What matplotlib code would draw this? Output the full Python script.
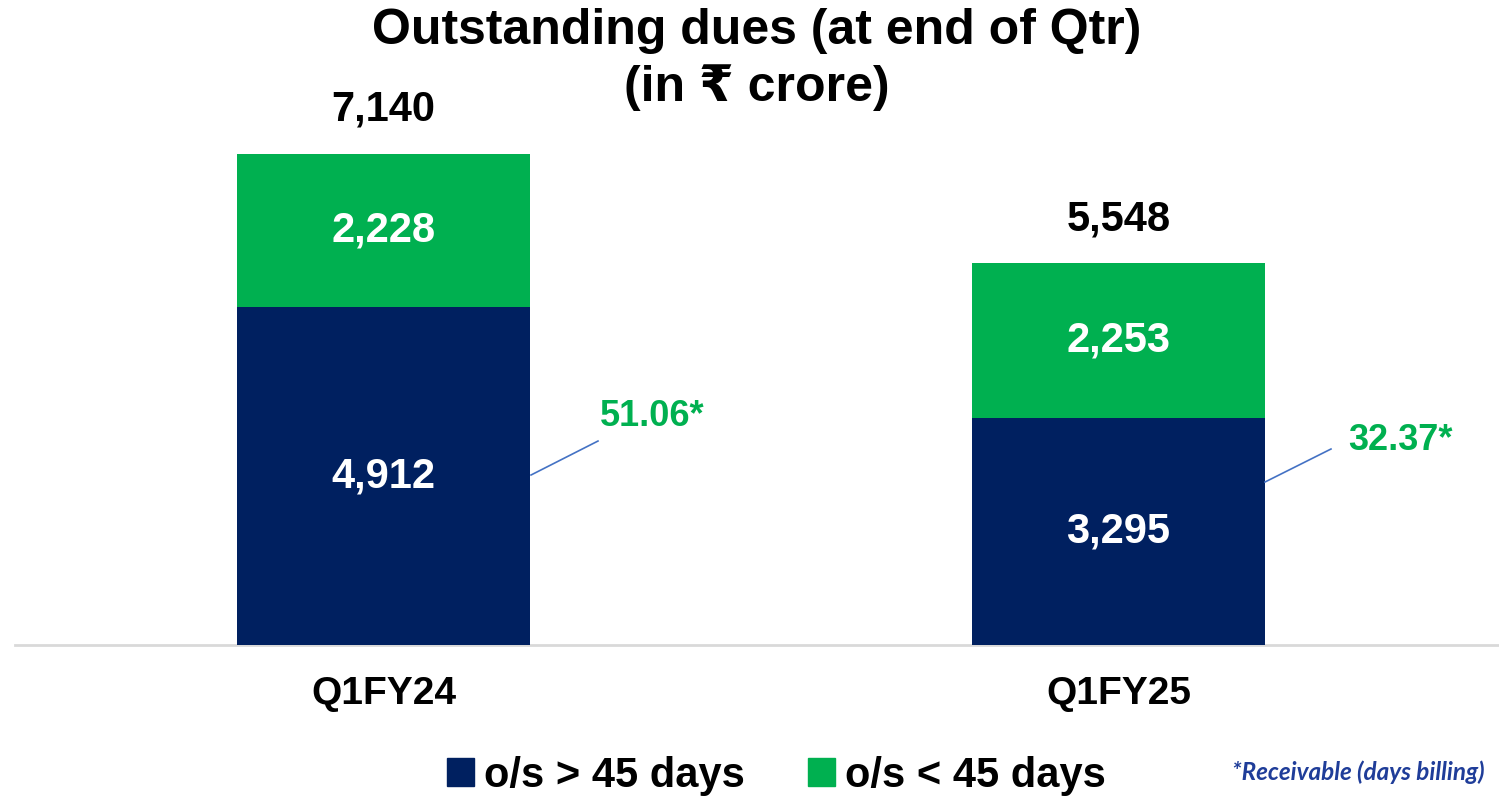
import matplotlib
matplotlib.use("Agg")
import matplotlib.pyplot as plt
from matplotlib.patches import Patch

plt.rcParams['font.family'] = ['Liberation Sans', 'DejaVu Sans']

# ---- data ----
categories = ["Q1FY24", "Q1FY25"]
over_45 = [4912, 3295]
under_45 = [2228, 2253]
totals = [7140, 5548]
days_billing = ["51.06*", "32.37*"]
series_names = ["o/s > 45 days", "o/s < 45 days"]
title_lines = ["Outstanding dues (at end of Qtr)", "(in \u20b9 crore)"]
footnote = "*Receivable (days billing)"

NAVY = "#002060"
GREEN = "#00B050"

W, H = 1499, 797
fig = plt.figure(figsize=(W / 100, H / 100), dpi=100)

base_px = 645
ax = fig.add_axes([15 / W, (H - base_px) / H, 1 - 15 / W, base_px / H])
px_per_unit = 491 / 7140
ax.set_ylim(0, base_px / px_per_unit)
ax.set_xlim(-0.5014, 1.5177)

x = list(range(len(categories)))
bw = 0.3986
ax.bar(x, over_45, width=bw, color=NAVY, zorder=2)
ax.bar(x, under_45, width=bw, bottom=over_45, color=GREEN, zorder=2)

for i in x:
    ax.text(i, over_45[i] / 2, f"{over_45[i]:,}", ha="center", va="center",
            color="white", fontsize=30, fontweight="bold")
    ax.text(i, over_45[i] + under_45[i] / 2, f"{under_45[i]:,}", ha="center",
            va="center", color="white", fontsize=30, fontweight="bold")
    ax.annotate(f"{totals[i]:,}", (i, totals[i]), xytext=(0, 32),
                textcoords="offset points", ha="center", va="center",
                fontsize=30, fontweight="bold", color="black")

# callouts for days billing (positions in data coords)
callouts = [((0.2007, 2472), (0.2918, 2966), (0.2946, 3330)),
            ((1.1993, 2370), (1.2891, 2850), (1.3122, 2970))]
for (p0, p1, pt), lab in zip(callouts, days_billing):
    ax.plot([p0[0], p1[0]], [p0[1], p1[1]], color="#4472C4", lw=1.2, zorder=3)
    ax.text(pt[0], pt[1], lab, ha="left", va="center", color=GREEN,
            fontsize=26, fontweight="bold")

for s in ["top", "right", "left"]:
    ax.spines[s].set_visible(False)
ax.spines["bottom"].set_color("#D9D9D9")
ax.spines["bottom"].set_linewidth(2)
ax.spines["bottom"].set_zorder(1)
ax.set_yticks([])
ax.set_xticks(x)
ax.set_xticklabels(categories, fontsize=28, fontweight="bold")
ax.tick_params(axis="x", length=0, pad=22)
ax.patch.set_alpha(0)

fig.text(0.505, 1 - 31 / H, title_lines[0], ha="center", va="center",
         fontsize=36, fontweight="bold")
fig.text(0.505, 1 - 88 / H, title_lines[1], ha="center", va="center",
         fontsize=36, fontweight="bold")

handles = [Patch(color=NAVY), Patch(color=GREEN)]
leg = fig.legend(handles, series_names, loc="center", ncol=2,
                 bbox_to_anchor=(0.518, 1 - 776 / H), frameon=False,
                 prop={"size": 30, "weight": "bold"}, handlelength=0.65,
                 handleheight=0.65, handletextpad=0.25, columnspacing=1.5)

fig.text(1485 / W, 1 - 772 / H, footnote, ha="right", va="center",
         fontsize=17.5, fontweight="bold", style="italic", color="#1F3D99",
         family=["Lato", "DejaVu Sans"])

fig.savefig("out.png", dpi=100)
